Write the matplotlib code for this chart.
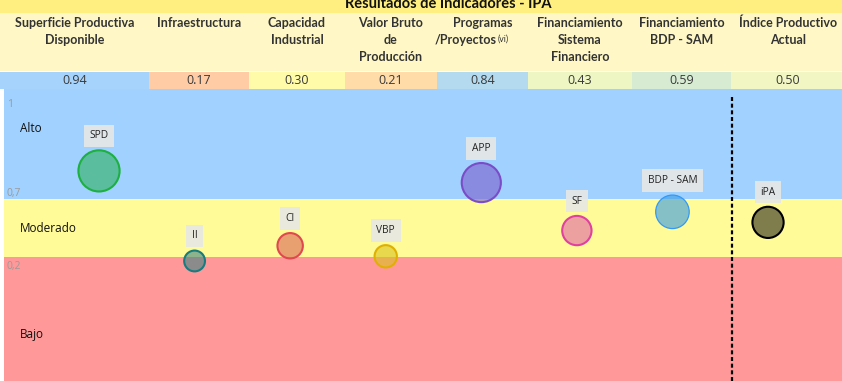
import matplotlib.pyplot as plt
from matplotlib.patches import Rectangle

# --- datos ---
headers = ['Superficie Productiva\nDisponible', 'Infraestructura', 'Capacidad\nIndustrial',
           'Valor Bruto\nde\nProducción', 'Programas\n/Proyectos', 'Financiamiento\nSistema\nFinanciero',
           'Financiamiento\nBDP - SAM', 'Índice Productivo\nActual']
codes = ['SPD', 'II', 'CI', 'VBP', 'APP', 'SF', 'BDP - SAM', 'iPA']
values = [0.94, 0.17, 0.30, 0.21, 0.84, 0.43, 0.59, 0.50]
bands = ['Alto', 'Moderado', 'Bajo']
band_ticks = ['1', '0,7', '0,2']

cell_colors = ['#A6D3FB', '#FFCCA6', '#FFFBA8', '#FFDCA8', '#B3DAEE', '#EEF6C4', '#D6EBD2', '#F1F6C2']
fill_colors = ['#2CB15E', '#3F8383', '#D96455', '#D9C11C', '#785DCC', '#E164A5', '#359AE6', '#000000']
edge_colors = ['#1DB040', '#177C80', '#E04850', '#E0B000', '#7B4CC8', '#E040A0', '#3399F5', '#000000']
fill_alpha = [0.6, 0.6, 0.6, 0.6, 0.6, 0.6, 0.6, 0.5]

W, H = 842, 381
fig = plt.figure(figsize=(W / 100, H / 100), dpi=100)

# cabecera en coordenadas de pixel
bg = fig.add_axes([0, 0, 1, 1])
bg.set_xlim(0, W)
bg.set_ylim(H, 0)
bg.axis('off')

col_edges = [0, 149, 249, 345, 437, 528, 632, 731, 845]
bg.add_patch(Rectangle((0, 0), W, 12.5, color='#FFEE80', lw=0))
bg.add_patch(Rectangle((0, 12.5), W, 58, color='#FFF8C6', lw=0))
bg.text(448, 7.5, 'Resultados de Indicadores - IPA', ha='center', va='baseline',
        fontsize=10.5, fontweight='bold', family='Lato', color='#111111')

for i, h in enumerate(headers):
    x0, x1 = col_edges[i], col_edges[i + 1]
    xc = (x0 + x1) / 2
    lines = h.split('\n')
    for j, ln in enumerate(lines):
        y = 23 + j * 17
        if ln == '/Proyectos':
            bg.text(xc + 14, y, ln, ha='right', va='center', fontsize=9,
                    fontweight='bold', family='Lato', color='#333333')
            bg.text(xc + 15, y - 1, '(vi)', ha='left', va='center', fontsize=6.3,
                    family='Lato', color='#333333')
        else:
            bg.text(xc, y, ln, ha='center', va='center', fontsize=9,
                    fontweight='bold', family='Lato', color='#333333')
    bg.add_patch(Rectangle((x0, 72), x1 - x0, 17, color=cell_colors[i], lw=0))
    bg.text(xc, 81, f'{values[i]:.2f}', ha='center', va='center', fontsize=9,
            family='Open Sans', color='#3a3a3a')

# grafico de burbujas
ax = fig.add_axes([4 / W, 0, (W - 4) / W, (H - 89) / H])
ax.set_xlim(-0.994, 7.774)
ax.set_ylim(-0.856, 1.640)
ax.axis('off')

ax.axhspan(0.7, 1.640, color='#A1D1FE', lw=0, zorder=0)
ax.axhspan(0.2, 0.7, color='#FFFB99', lw=0, zorder=0)
ax.axhspan(-0.856, 0.2, color='#FF9999', lw=0, zorder=0)

for name, yv in zip(bands, [1.30, 0.45, -0.46]):
    ax.text(-0.83, yv, name, ha='left', va='center', fontsize=8.5,
            family='Open Sans', color='#111111')
for t, yv in zip(band_ticks, [1.51, 0.75, 0.12]):
    ax.text(-0.965, yv, t, ha='left', va='center', fontsize=7.5,
            family='Open Sans', color='#9A9A9A')

ax.plot([6.623, 6.623], [1.572, -0.856], color='black', lw=1.6,
        ls=(0, (1.8, 1.2)), zorder=2)

xs = list(range(len(values)))
sizes = [80 + 850 * v for v in values]
for i in xs:
    ax.scatter(xs[i], values[i], s=sizes[i], color=fill_colors[i], alpha=fill_alpha[i],
               edgecolors='none', zorder=3)
    ax.scatter(xs[i], values[i], s=sizes[i], facecolors='none', edgecolors=edge_colors[i],
               linewidths=1.5 if i != 6 else 0.9, zorder=4)
    off = sizes[i] ** 0.5 / 2 + 10.5
    ax.annotate(codes[i], (xs[i], values[i]), xytext=(0, off), textcoords='offset points',
                ha='center', va='center', fontsize=7.3, family='Open Sans', color='#222222',
                bbox=dict(boxstyle='square,pad=0.55', fc='#E8E8E6', ec='none', alpha=0.9),
                zorder=5)

fig.savefig('out.png', dpi=100)
